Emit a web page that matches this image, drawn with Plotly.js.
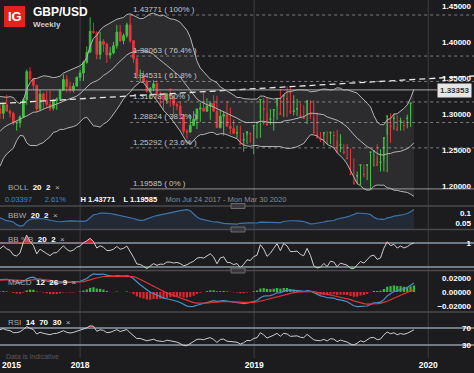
<!DOCTYPE html>
<html><head><meta charset="utf-8">
<script src="https://cdn.plot.ly/plotly-3.0.1.min.js"></script>
<style>html,body{margin:0;padding:0;background:#1c1c1f;}#chart{width:474px;height:373px;}</style>
</head><body><div id="chart"></div>
<script>
// ---- Weekly GBP/USD candles (first 20 weeks are indicator warm-up, off-screen) ----
const firstWeek = [2017, 2, 6]; // Mon 6 Mar 2017, weekly bars
const open = [1.2230,1.2160,1.2400,1.2570,1.2550,1.2380,1.2560,1.2810,1.2950,1.2970,1.2890,1.3010,1.2800,1.2890,1.2740,1.2780,1.2720,1.3010,1.2890,1.3070,
1.3010,1.3130,1.3040,1.3010,1.2875,1.2880,1.2960,1.3200,1.3590,1.3490,1.3400,1.3070,1.3280,1.3190,1.3135,1.3080,1.3190,1.3210,1.3330,1.3480,1.3380,1.3330,1.3390,
1.3510,1.3570,1.3720,1.3860,1.4150,1.4130,1.3830,1.4010,1.3970,1.3820,1.3850,1.3950,1.4140,1.4020,1.4090,1.4240,1.4020,1.3770,1.3530,1.3540,1.3460,1.3310,1.3360,1.3420,1.3270,1.3270,1.3200,1.3280,1.3230,1.3130,1.3110,1.2980,1.2760,1.2750,1.2840,1.2930,1.3070,1.3080,1.3040,1.3110,1.3150,1.3040,1.2810,1.2970,1.2990,1.2830,1.2800,1.2740,1.2580,1.2640,1.2750,
1.2730,1.2840,1.2880,1.3200,1.3070,1.2850,1.2930,1.3060,1.3200,1.3000,1.3260,1.3210,1.3030,1.3040,1.3070,1.2970,1.2940,1.3180,1.3000,1.2740,1.2670,1.2650,1.2740,1.2590,1.2740,1.2700,1.2470,1.2570,1.2470,1.2380,1.2160,1.2030,1.2140,1.2290,1.2160,1.2290,1.2470,1.2480,1.2290,1.2330,1.2670,1.2970,1.2830,1.2940,1.2780,1.2900,1.2840,1.2940,1.3150];
const high = [1.2240,1.2400,1.2570,1.2610,1.2550,1.2590,1.2900,1.2960,1.2990,1.2990,1.3050,1.3040,1.2940,1.2970,1.2810,1.2810,1.3030,1.3030,1.3110,1.3130,
1.3150,1.3267,1.3060,1.3030,1.2900,1.2980,1.3225,1.3620,1.3650,1.3500,1.3400,1.3340,1.3300,1.3320,1.3320,1.3210,1.3230,1.3350,1.3550,1.3540,1.3450,1.3430,1.3520,
1.3610,1.3740,1.3940,1.4345,1.4270,1.4150,1.4140,1.4040,1.3990,1.3930,1.4000,1.4240,1.4240,1.4120,1.4270,1.43771,1.4020,1.3790,1.3620,1.3600,1.3470,1.3370,1.3470,1.3470,1.3310,1.3280,1.3290,1.3360,1.3260,1.3170,1.3170,1.3000,1.2790,1.2990,1.3040,1.2950,1.3160,1.3300,1.3220,1.3160,1.3260,1.3250,1.3060,1.3040,1.3180,1.3090,1.2920,1.2840,1.2840,1.2740,1.2710,1.2740,1.2790,
1.2870,1.2930,1.3220,1.3220,1.3070,1.2960,1.3110,1.3350,1.3240,1.3380,1.3380,1.3260,1.3210,1.3150,1.3120,1.3000,1.3190,1.3190,1.3020,1.2750,1.2700,1.2760,1.2760,1.2760,1.2780,1.2720,1.2580,1.2580,1.2520,1.2380,1.2200,1.2150,1.2300,1.2300,1.2330,1.2500,1.2580,1.2510,1.2350,1.2710,1.3010,1.3010,1.2980,1.2950,1.2910,1.2990,1.2980,1.3180,1.3515];
const low = [1.2110,1.2110,1.2340,1.2380,1.2370,1.2370,1.2520,1.2790,1.2840,1.2840,1.2840,1.2770,1.2770,1.2630,1.2640,1.2590,1.2720,1.2810,1.2810,1.2930,
1.2930,1.3030,1.2950,1.2845,1.2770,1.2810,1.2960,1.3130,1.3450,1.3340,1.3030,1.3060,1.3070,1.3080,1.3040,1.3050,1.3060,1.3180,1.3320,1.3300,1.3300,1.3300,1.3380,
1.3460,1.3460,1.3700,1.3860,1.4120,1.3760,1.3760,1.3860,1.3710,1.3770,1.3830,1.3910,1.4000,1.3970,1.4060,1.3990,1.3710,1.3480,1.3460,1.3440,1.3300,1.3205,1.3320,1.3210,1.3100,1.3050,1.3140,1.3100,1.2960,1.3050,1.2920,1.2720,1.2660,1.2740,1.2840,1.2790,1.2890,1.3060,1.3030,1.2920,1.3080,1.3010,1.2800,1.2700,1.2960,1.2720,1.2720,1.2660,1.2660,1.2477,1.2580,1.2600,1.2440,
1.2660,1.2670,1.2850,1.3010,1.2850,1.2770,1.2920,1.3040,1.2960,1.2960,1.3000,1.2980,1.2970,1.3010,1.2970,1.2860,1.2930,1.2960,1.2730,1.2610,1.2560,1.2610,1.2580,1.2510,1.2630,1.2470,1.2440,1.2380,1.2380,1.2080,1.2020,1.2010,1.2120,1.2080,1.19585,1.2270,1.2400,1.2200,1.2200,1.2190,1.2600,1.2780,1.2820,1.2770,1.2770,1.2800,1.2820,1.2900,1.3100];
const close = [1.2160,1.2400,1.2570,1.2550,1.2380,1.2560,1.2810,1.2950,1.2970,1.2890,1.3010,1.2800,1.2890,1.2740,1.2780,1.2720,1.3010,1.2890,1.3070,1.3010,
1.3130,1.3040,1.3010,1.2875,1.2880,1.2960,1.3200,1.3590,1.3490,1.3400,1.3070,1.3280,1.3190,1.3135,1.3080,1.3190,1.3210,1.3330,1.3480,1.3380,1.3330,1.3390,1.3510,
1.3570,1.3720,1.3860,1.4150,1.4130,1.3830,1.4010,1.3970,1.3820,1.3850,1.3950,1.4140,1.4020,1.4090,1.4240,1.4020,1.3770,1.3530,1.3540,1.3460,1.3310,1.3360,1.3420,1.3270,1.3270,1.3200,1.3280,1.3230,1.3130,1.3110,1.2980,1.2760,1.2750,1.2840,1.2930,1.3070,1.3080,1.3040,1.3110,1.3150,1.3040,1.2810,1.2970,1.2990,1.2830,1.2800,1.2730,1.2740,1.2580,1.2640,1.2750,1.2730,
1.2840,1.2880,1.3200,1.3070,1.2850,1.2930,1.3060,1.3200,1.3000,1.3260,1.3210,1.3030,1.3040,1.3070,1.2970,1.2940,1.3180,1.3000,1.2740,1.2670,1.2650,1.2740,1.2590,1.2740,1.2700,1.2470,1.2570,1.2470,1.2380,1.2160,1.2030,1.2140,1.2290,1.2160,1.2290,1.2470,1.2480,1.2290,1.2330,1.2670,1.2970,1.2830,1.2940,1.2780,1.2900,1.2840,1.2940,1.3150,1.33353];

// ---- Drawing tools / labels ----
const fibLevels = [1.43771, 1.38063, 1.34531, 1.31678, 1.28824, 1.25292, 1.19585];
const fibPct    = ['100%', '76.4%', '61.8%', '50%', '38.2%', '23.6%', '0%'];
const fibStart  = '2018-04-16';
const trendX = ['2017-07-17', '2020-04-06'];
const trendY = [1.3146, 1.3529];
const lastPrice = 1.33353;
const xRange = ['2017-07-17', '2020-04-06'];
const xTickVals = ['2017-08-10', '2018-01-01', '2019-01-01', '2020-01-01'];
const xTickText = ['2015', '2018', '2019', '2020'];
const yearLines = ['2018-01-01', '2019-01-01', '2020-01-01'];
const priceTicks = [1.20, 1.25, 1.30, 1.35, 1.40, 1.45];

// ---- dates ----
const dates = close.map((_, i) => new Date(Date.UTC(firstWeek[0], firstWeek[1], firstWeek[2]) + i * 7 * 864e5).toISOString().slice(0, 10));

// ---- indicators ----
const N = close.length;
const bbMid = [], bbUp = [], bbLo = [], bbw = [], pctB = [];
for (let i = 0; i < N; i++) {
  if (i < 19) { bbMid.push(null); bbUp.push(null); bbLo.push(null); bbw.push(null); pctB.push(null); continue; }
  const s = close.slice(i - 19, i + 1);
  const m = s.reduce((a, b) => a + b, 0) / 20;
  const sd = Math.sqrt(s.reduce((a, b) => a + (b - m) * (b - m), 0) / 20);
  bbMid.push(m); bbUp.push(m + 2 * sd); bbLo.push(m - 2 * sd);
  bbw.push(4 * sd / m); pctB.push((close[i] - (m - 2 * sd)) / (4 * sd));
}
function ema(arr, n) { const k = 2 / (n + 1); let p = arr[0]; return arr.map((v, i) => (p = i === 0 ? v : v * k + p * (1 - k))); }
const e12 = ema(close, 12), e26 = ema(close, 26);
const macd = close.map((_, i) => e12[i] - e26[i]);
const signal = ema(macd, 9);
const hist = macd.map((v, i) => v - signal[i]);
const rsi = new Array(N).fill(null);
let ag = 0, al = 0;
for (let i = 1; i < N; i++) {
  const ch = close[i] - close[i - 1], g = Math.max(ch, 0), l = Math.max(-ch, 0);
  if (i <= 14) { ag += g / 14; al += l / 14; if (i === 14) rsi[i] = 100 - 100 / (1 + ag / al); }
  else { ag = (ag * 13 + g) / 14; al = (al * 13 + l) / 14; rsi[i] = 100 - 100 / (1 + ag / al); }
}

// ---- geometry helpers (pixel -> paper) ----
const W = 474, PH = 358;
const px = x => x / W, py = y => (PH - y) / PH;

const FONT = 'Liberation Sans, Arial, Helvetica, sans-serif';
const GREEN = '#33bf33', RED = '#e5262d';

const traces = [
  {x: dates, y: bbUp, xaxis: 'x', yaxis: 'y', mode: 'lines', line: {color: '#b5b5b5', width: 1}, hoverinfo: 'skip'},
  {x: dates, y: bbLo, xaxis: 'x', yaxis: 'y', mode: 'lines', line: {color: '#b5b5b5', width: 1}, fill: 'tonexty', fillcolor: 'rgba(255,255,255,0.075)', hoverinfo: 'skip'},
  {x: dates, y: bbMid, xaxis: 'x', yaxis: 'y', mode: 'lines', line: {color: '#b5b5b5', width: 1}, hoverinfo: 'skip'},
  {type: 'candlestick', x: dates, open: open, high: high, low: low, close: close, xaxis: 'x', yaxis: 'y',
   increasing: {line: {color: GREEN, width: 1}, fillcolor: GREEN},
   decreasing: {line: {color: RED, width: 1}, fillcolor: RED}, whiskerwidth: 0},
  {x: trendX, y: trendY, xaxis: 'x', yaxis: 'y', mode: 'lines', line: {color: '#e8e8e8', width: 1.3, dash: '6px,4px'}, hoverinfo: 'skip'},
  // BBW
  {x: dates, y: bbw, xaxis: 'x', yaxis: 'y2', mode: 'lines', line: {color: '#3f74aa', width: 1.2}, fill: 'tozeroy', fillcolor: 'rgba(63,116,170,0.16)'},
  // %B with fills
  {x: dates, y: dates.map(() => 1), xaxis: 'x', yaxis: 'y3', mode: 'lines', line: {width: 0}, hoverinfo: 'skip'},
  {x: dates, y: pctB.map(v => v == null ? null : Math.max(v, 1)), xaxis: 'x', yaxis: 'y3', mode: 'lines', line: {width: 0}, fill: 'tonexty', fillcolor: 'rgba(229,38,45,0.75)', hoverinfo: 'skip'},
  {x: dates, y: dates.map(() => 0), xaxis: 'x', yaxis: 'y3', mode: 'lines', line: {width: 0}, hoverinfo: 'skip'},
  {x: dates, y: pctB.map(v => v == null ? null : Math.min(v, 0)), xaxis: 'x', yaxis: 'y3', mode: 'lines', line: {width: 0}, fill: 'tonexty', fillcolor: 'rgba(51,191,51,0.75)', hoverinfo: 'skip'},
  {x: dates, y: pctB, xaxis: 'x', yaxis: 'y3', mode: 'lines', line: {color: '#cfcfcf', width: 1}},
  // MACD
  {type: 'bar', x: dates, y: hist, xaxis: 'x', yaxis: 'y4', marker: {color: hist.map(v => v >= 0 ? GREEN : RED)}},
  {x: dates, y: macd, xaxis: 'x', yaxis: 'y4', mode: 'lines', line: {color: '#4a8fc9', width: 1.2}},
  {x: dates, y: signal, xaxis: 'x', yaxis: 'y4', mode: 'lines', line: {color: '#e0353a', width: 1.2}},
  // RSI with fills
  {x: dates, y: dates.map(() => 70), xaxis: 'x', yaxis: 'y5', mode: 'lines', line: {width: 0}, hoverinfo: 'skip'},
  {x: dates, y: rsi.map(v => v == null ? null : Math.max(v, 70)), xaxis: 'x', yaxis: 'y5', mode: 'lines', line: {width: 0}, fill: 'tonexty', fillcolor: 'rgba(229,38,45,0.75)', hoverinfo: 'skip'},
  {x: dates, y: dates.map(() => 30), xaxis: 'x', yaxis: 'y5', mode: 'lines', line: {width: 0}, hoverinfo: 'skip'},
  {x: dates, y: rsi.map(v => v == null ? null : Math.min(v, 30)), xaxis: 'x', yaxis: 'y5', mode: 'lines', line: {width: 0}, fill: 'tonexty', fillcolor: 'rgba(51,191,51,0.75)', hoverinfo: 'skip'},
  {x: dates, y: rsi, xaxis: 'x', yaxis: 'y5', mode: 'lines', line: {color: '#cfcfcf', width: 1}}
];

const yTickFont = {family: FONT, size: 8, color: '#ffffff', weight: 'bold'};
const yBase = {side: 'right', anchor: 'x', ticklabelposition: 'inside', showgrid: false, zeroline: false, showline: false, ticks: '', fixedrange: true, tickfont: yTickFont};

const shapes = [];
yearLines.forEach(d => shapes.push({type: 'line', xref: 'x', yref: 'paper', x0: d, x1: d, y0: 0, y1: 1, line: {color: '#3e3e42', width: 1}, layer: 'below'}));
[206, 229.5, 270.5, 312].forEach(y => shapes.push({type: 'line', xref: 'paper', yref: 'paper', x0: 0, x1: 1, y0: py(y), y1: py(y), line: {color: '#4a4a4e', width: 1.5}}));
fibLevels.forEach((lv, i) => shapes.push({type: 'line', xref: 'x', yref: 'y', x0: fibStart, x1: xRange[1], y0: lv, y1: lv,
  line: {color: i === fibLevels.length - 1 ? 'rgba(200,200,200,0.7)' : 'rgba(190,190,190,0.6)', width: 1, dash: i === fibLevels.length - 1 ? 'solid' : 'dot'}}));
shapes.push({type: 'line', xref: 'paper', yref: 'y', x0: 0, x1: px(437), y0: lastPrice, y1: lastPrice, line: {color: '#a8a8a8', width: 1}});
[0, 1].forEach(v => shapes.push({type: 'line', xref: 'paper', yref: 'y3', x0: 0, x1: 1, y0: v, y1: v, line: {color: '#8e9aa6', width: 1.5}, layer: 'below'}));
[30, 70].forEach(v => shapes.push({type: 'line', xref: 'paper', yref: 'y5', x0: 0, x1: 1, y0: v, y1: v, line: {color: '#8e9aa6', width: 1.5}, layer: 'below'}));
// IG logo box
shapes.push({type: 'rect', xref: 'paper', yref: 'paper', x0: px(4), x1: px(25), y0: py(27), y1: py(6), fillcolor: '#e2231a', line: {width: 0}});
// panel resize handles
[206, 229.5, 270.5].forEach(y => shapes.push({type: 'rect', xref: 'paper', yref: 'paper', x0: px(231), x1: px(245), y0: py(y + 2.5), y1: py(y - 2.5), fillcolor: '#3a3a3e', line: {color: '#6a6a6e', width: 1}}));

const ann = [];
const A = (x, y, text, o) => ann.push(Object.assign({xref: 'paper', yref: 'paper', x: px(x), y: py(y), text: text, showarrow: false, xanchor: 'left', yanchor: 'middle', font: {family: FONT, size: 8, color: '#ffffff'}}, o || {}));
A(14.5, 16.8, '<b>IG</b>', {xanchor: 'center', font: {family: FONT, size: 13, color: '#ffffff'}});
A(31, 12, '<b>GBP/USD</b>', {font: {family: FONT, size: 12, color: '#ffffff'}});
A(31, 24.5, '<b>Weekly</b>', {font: {family: FONT, size: 8, color: '#cfcfcf'}});
fibLevels.forEach((lv, i) => ann.push({xref: 'x', yref: 'y', x: fibStart, y: lv, xanchor: 'left', yanchor: 'bottom', xshift: 1, yshift: -1, showarrow: false,
  text: lv.toFixed(5) + ' ( ' + fibPct[i] + ' )', font: {family: FONT, size: 8, color: '#c4c4c4'}}));
A(437, 90.5, '<b>' + lastPrice.toFixed(5) + '</b>', {bgcolor: '#e6e6e6', font: {family: FONT, size: 8, color: '#333333'}, borderpad: 2});
const lbl = (name, params) => '<span style="color:#a8a8a8">' + name + '</span>  <b>' + params + '</b>  <span style="color:#bbbbbb">×</span>';
A(6, 187.5, lbl('BOLL', '20  2'));
A(3, 199, '<span style="color:#3f86cf">0.03397</span>      <span style="color:#3f86cf">2.61%</span>       <b>H 1.43771</b>    <b>L 1.19585</b>    <span style="color:#8c8c8c">Mon Jul 24 2017 - Mon Mar 30 2020</span>', {font: {family: FONT, size: 7.5, color: '#ffffff'}});
A(6, 215, lbl('BBW', '20  2'));
A(6, 240, lbl('BB %B', '20  2'));
A(6, 282, lbl('MACD', '12  26  9'));
A(6, 322, lbl('RSI', '14  70  30'));
A(4, 356, 'Data is indicative', {font: {family: FONT, size: 7, color: '#5a5a5e'}});

const layout = {
  width: 474, height: 373, margin: {l: 0, r: 0, t: 0, b: 15},
  paper_bgcolor: '#1c1c1f', plot_bgcolor: '#1c1c1f', showlegend: false, bargap: 0.35,
  font: {family: FONT, color: '#ffffff', size: 8},
  xaxis: {type: 'date', range: xRange, anchor: 'y5', tickvals: xTickVals, ticktext: xTickText, showgrid: false, zeroline: false, showline: false, ticks: '',
          tickfont: {family: FONT, size: 8.5, color: '#ffffff', weight: 'bold'}, rangeslider: {visible: false}, fixedrange: true},
  yaxis: Object.assign({}, yBase, {domain: [py(206), 1], range: [1.17206, 1.45857], tickvals: priceTicks, tickformat: '.5f'}),
  yaxis2: Object.assign({}, yBase, {domain: [py(229), py(207)], range: [0.02, 0.13], tickvals: [0.05, 0.1], ticktext: ['0.05', '0.1']}),
  yaxis3: Object.assign({}, yBase, {domain: [py(270), py(230)], range: [-0.125, 1.5417], tickvals: [0, 1], ticktext: ['0', '1']}),
  yaxis4: Object.assign({}, yBase, {domain: [py(312), py(271)], range: [-0.02857, 0.03], tickvals: [-0.02, 0, 0.02], tickformat: '.5f'}),
  yaxis5: Object.assign({}, yBase, {domain: [0, py(313)], range: [-0.6, 105.3], tickvals: [30, 70], ticktext: ['30', '70']}),
  shapes: shapes, annotations: ann
};
Plotly.newPlot('chart', traces, layout, {displayModeBar: false, staticPlot: true});
</script></body></html>
